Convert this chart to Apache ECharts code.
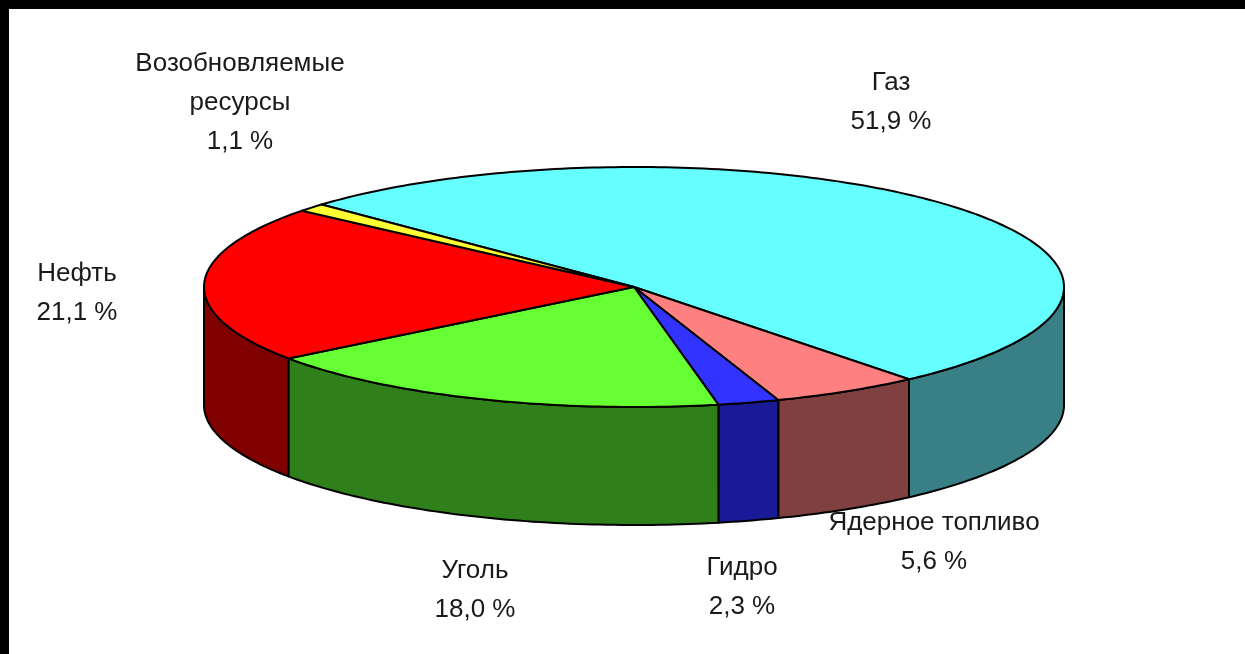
<!DOCTYPE html>
<html><head><meta charset="utf-8">
<style>html,body{margin:0;padding:0;background:#000}#c{width:1245px;height:654px}</style>
<script src="https://cdn.jsdelivr.net/npm/echarts@6/dist/echarts.min.js"></script>
</head><body><div id="c"></div>
<script>
// Data (clockwise, starting at the Gas slice)
const names = ['Газ', 'Ядерное топливо', 'Гидро', 'Уголь', 'Нефть', 'Возобновляемые\nресурсы'];
const values = [51.9, 5.6, 2.3, 18.0, 21.1, 1.1];
// Styles
const topColors = ['#66ffff', '#ff8080', '#3333ff', '#66ff33', '#ff0000', '#ffff33'];
const sideColors = ['#388085', '#804040', '#1a1a99', '#2f7f1a', '#800000', '#808019'];
// Layout
const pie = {cx: 634, cy: 287, rx: 430, ry: 120, depth: 118, start: 223.4};
const labelCenters = [[891, 83], [934, 523], [742, 568], [475, 571], [77, 274], [240, 64]];
const lineGap = 39;
const rad = d => d * Math.PI / 180;
const total = values.reduce((a, b) => a + b, 0);
function arcPts(a0, a1, dy) {
  const pts = [], n = Math.max(2, Math.ceil((a1 - a0) / 1));
  for (let i = 0; i <= n; i++) {
    const a = rad(a0 + (a1 - a0) * i / n);
    pts.push([pie.cx + pie.rx * Math.cos(a), pie.cy + pie.ry * Math.sin(a) + dy]);
  }
  return pts;
}
function overlap(a0, a1, lo, hi) {
  const s = Math.max(a0, lo), e = Math.min(a1, hi);
  return e > s ? [s, e] : null;
}
function renderItem(params, api) {
  const i = params.dataIndex;
  let a0 = pie.start;
  for (let k = 0; k < i; k++) a0 += values[k] / total * 360;
  const a1 = a0 + api.value(0) / total * 360;
  const children = [];
  const line = {stroke: '#000', lineWidth: 2, lineJoin: 'round'};
  // visible rim: front half of the ellipse only
  [[0, 180], [360, 540]].forEach(([lo, hi]) => {
    const o = overlap(a0, a1, lo, hi);
    if (!o) return;
    const topEdge = arcPts(o[0], o[1], 0);
    const botEdge = arcPts(o[0], o[1], pie.depth).reverse();
    children.push({type: 'polygon', shape: {points: topEdge.concat(botEdge)},
      style: Object.assign({fill: sideColors[i]}, line)});
  });
  children.push({type: 'polygon',
    shape: {points: [[pie.cx, pie.cy]].concat(arcPts(a0, a1, 0))},
    style: Object.assign({fill: topColors[i]}, line)});
  const [lx, ly] = labelCenters[i];
  const rows = names[i].split('\n').concat(values[i].toFixed(1).replace('.', ',') + ' %');
  rows.forEach((t, r) => children.push({type: 'text', x: lx, y: ly + r * lineGap,
    style: {text: t, fill: '#1a1a1a', font: '26px "Liberation Sans"', align: 'center', verticalAlign: 'middle'}}));
  return {type: 'group', children};
}
const chart = echarts.init(document.getElementById('c'), null, {renderer: 'canvas'});
chart.setOption({
  animation: false,
  backgroundColor: '#000',
  graphic: [{type: 'rect', shape: {x: 9, y: 9, width: 1236, height: 645}, style: {fill: '#fff'}, z: -10}],
  series: [{type: 'custom', coordinateSystem: 'none', silent: true, renderItem,
    data: values.map(v => [v])}]
});
</script></body></html>
